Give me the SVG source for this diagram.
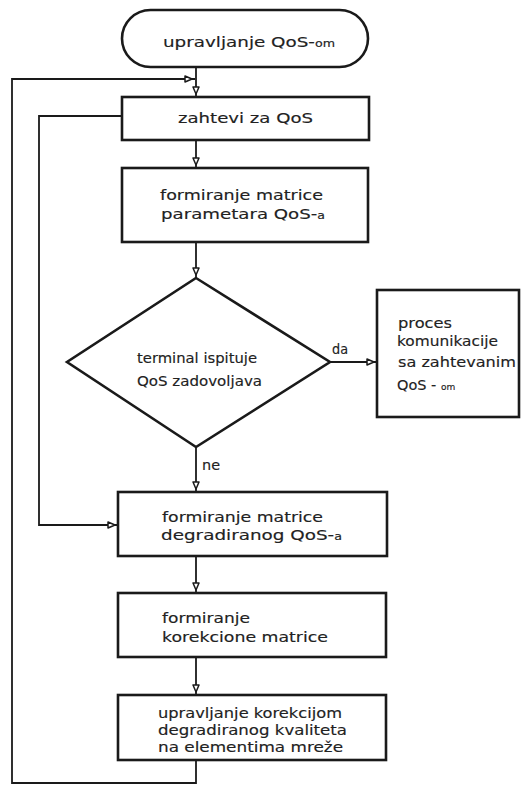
<svg xmlns="http://www.w3.org/2000/svg" width="521" height="785" viewBox="0 0 521 785">
<style>
.box{fill:#fff;stroke:#1a1a1a;stroke-width:2.6}
.cn{fill:none;stroke:#1a1a1a;stroke-width:1.8}
text{font-family:"DejaVu Sans","Liberation Sans",sans-serif;font-size:14.5px;fill:#222;stroke:#222;stroke-width:0.15}
.sm{font-size:10px}
</style>
<defs>
<marker id="ah" markerUnits="userSpaceOnUse" markerWidth="14" markerHeight="10" viewBox="0 -5 14 10" refX="11" refY="0" orient="auto">
<path d="M1,-3 L8,0 L1,3 Z" fill="#fff" stroke="#1a1a1a" stroke-width="1.5" stroke-linejoin="round"/>
</marker>
</defs>
<g id="connectors">
<path class="cn" d="M196,67 V97" marker-end="url(#ah)"/>
<path class="cn" d="M196,760 V783 H12 V79 H195" marker-end="url(#ah)"/>
<path class="cn" d="M122,116 H39 V525 H118" marker-end="url(#ah)"/>
<path class="cn" d="M196,140 V168" marker-end="url(#ah)"/>
<path class="cn" d="M196,242 V278" marker-end="url(#ah)"/>
<path class="cn" d="M330,362 H377" marker-end="url(#ah)"/>
<path class="cn" d="M196,447 V492" marker-end="url(#ah)"/>
<path class="cn" d="M196,556 V593" marker-end="url(#ah)"/>
<path class="cn" d="M196,657 V695" marker-end="url(#ah)"/>
<text x="332" y="354" textLength="16" lengthAdjust="spacingAndGlyphs">da</text>
<text x="202" y="470" textLength="18" lengthAdjust="spacingAndGlyphs">ne</text>
</g>
<g id="start">
<rect class="box" x="122" y="10" width="246" height="57" rx="28.5"/>
<text x="163" y="46.5" textLength="172" lengthAdjust="spacingAndGlyphs">upravljanje QoS-<tspan class="sm">om</tspan></text>
</g>
<g id="zahtevi">
<rect class="box" x="122" y="97" width="247" height="43"/>
<text x="178" y="123" textLength="135" lengthAdjust="spacingAndGlyphs">zahtevi za QoS</text>
</g>
<g id="matrica">
<rect class="box" x="122" y="168" width="246" height="74"/>
<text x="160" y="200" textLength="163" lengthAdjust="spacingAndGlyphs">formiranje matrice</text>
<text x="161" y="219" textLength="164" lengthAdjust="spacingAndGlyphs">parametara QoS-<tspan class="sm">a</tspan></text>
</g>
<g id="ispitivanje">
<path class="box" d="M196,278 L330,362 L196,447 L67,362 Z"/>
<text x="137" y="363" textLength="120" lengthAdjust="spacingAndGlyphs">terminal ispituje</text>
<text x="137" y="386" textLength="125" lengthAdjust="spacingAndGlyphs">QoS zadovoljava</text>
</g>
<g id="proces">
<rect class="box" x="377" y="290" width="142" height="127"/>
<text x="398" y="328" textLength="54" lengthAdjust="spacingAndGlyphs">proces</text>
<text x="397" y="346" textLength="101" lengthAdjust="spacingAndGlyphs">komunikacije</text>
<text x="398" y="367" textLength="118" lengthAdjust="spacingAndGlyphs">sa zahtevanim</text>
<text x="397" y="390" font-size="12">QoS - <tspan font-size="9">om</tspan></text>
</g>
<g id="degradirani">
<rect class="box" x="118" y="492" width="269" height="64"/>
<text x="162" y="522" textLength="161" lengthAdjust="spacingAndGlyphs">formiranje matrice</text>
<text x="161" y="540" textLength="181" lengthAdjust="spacingAndGlyphs">degradiranog QoS-<tspan class="sm">a</tspan></text>
</g>
<g id="korekciona">
<rect class="box" x="118" y="593" width="268" height="64"/>
<text x="162" y="623" textLength="88" lengthAdjust="spacingAndGlyphs">formiranje</text>
<text x="162" y="642" textLength="166" lengthAdjust="spacingAndGlyphs">korekcione matrice</text>
</g>
<g id="upravljanje">
<rect class="box" x="118" y="695" width="268" height="65"/>
<text x="158" y="718" textLength="184" lengthAdjust="spacingAndGlyphs">upravljanje korekcijom</text>
<text x="158" y="735" textLength="189" lengthAdjust="spacingAndGlyphs">degradiranog kvaliteta</text>
<text x="158" y="752" textLength="185" lengthAdjust="spacingAndGlyphs">na elementima mreže</text>
</g>
</svg>
